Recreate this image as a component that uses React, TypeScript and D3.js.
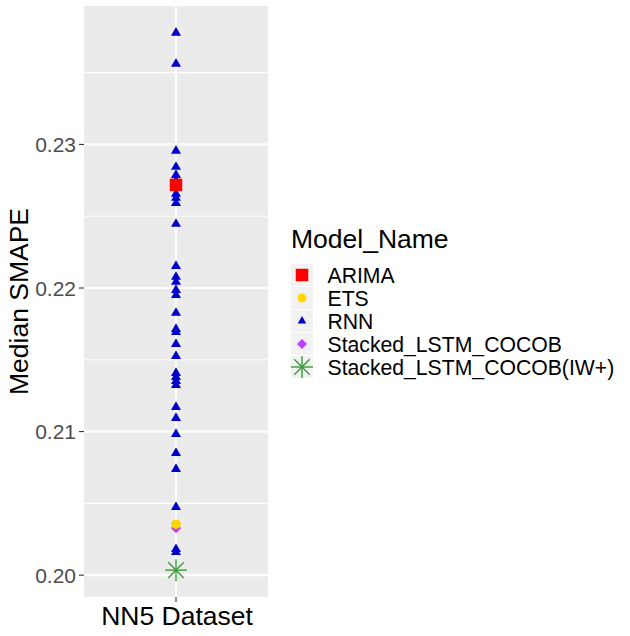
import React from "react";
import * as d3 from "d3";

const categories = ["NN5 Dataset"];
const rnnValues = [
  0.23777, 0.23561, 0.22955, 0.22843, 0.22787, 0.22746, 0.22697, 0.22655,
  0.22627, 0.22592, 0.22446, 0.22153, 0.22077, 0.22042, 0.21986, 0.21951,
  0.21826, 0.21714, 0.21693, 0.2161, 0.21526, 0.21408, 0.2138, 0.21352,
  0.21324, 0.21171, 0.21094, 0.20983, 0.2085, 0.20739, 0.20474, 0.20181,
  0.2016,
];
const arimaValues = [0.22718];
const etsValues = [0.20355];
const stackedValues = [0.20328];
const stackedIWValues = [0.20035];
const yTicks = [0.2, 0.21, 0.22, 0.23];
const yMinor = [0.205, 0.215, 0.225, 0.235];
const legendNames = [
  "ARIMA",
  "ETS",
  "RNN",
  "Stacked_LSTM_COCOB",
  "Stacked_LSTM_COCOB(IW+)",
];

const COLORS: Record<string, string> = {
  ARIMA: "#FF0000",
  ETS: "#FFD700",
  RNN: "#0000CD",
  Stacked_LSTM_COCOB: "#BF3EFF",
  "Stacked_LSTM_COCOB(IW+)": "#3A9A3A",
};

const FONT = "'Liberation Sans', Arial, Helvetica, sans-serif";

function Marker({ name, x, y, legend }: { name: string; x: number; y: number; legend?: boolean }) {
  const c = COLORS[name];
  if (name === "ARIMA") {
    const s = 12.5;
    return <rect x={x - s / 2} y={y - s / 2} width={s} height={s} fill={c} />;
  }
  if (name === "ETS") {
    return <circle cx={x} cy={y} r={legend ? 4.5 : 4.8} fill={c} />;
  }
  if (name === "RNN") {
    const w = legend ? 8.5 : 10;
    const h = w * 0.866;
    const p = `M${x},${y - (2 * h) / 3}L${x + w / 2},${y + h / 3}L${x - w / 2},${y + h / 3}Z`;
    return <path d={p} fill={c} />;
  }
  if (name === "Stacked_LSTM_COCOB") {
    const r = legend ? 5 : 5.2;
    const p = `M${x},${y - r}L${x + r},${y}L${x},${y + r}L${x - r},${y}Z`;
    return <path d={p} fill={c} />;
  }
  const r = 11;
  const d = r * Math.SQRT1_2;
  return (
    <g stroke={c} strokeWidth={1.4}>
      <line x1={x - r} y1={y} x2={x + r} y2={y} />
      <line x1={x} y1={y - r} x2={x} y2={y + r} />
      <line x1={x - d} y1={y - d} x2={x + d} y2={y + d} />
      <line x1={x - d} y1={y + d} x2={x + d} y2={y - d} />
    </g>
  );
}

export default function App() {
  const W = 630;
  const H = 636;
  const panel = { left: 84, right: 268, top: 6, bottom: 597 };

  const all = [...rnnValues, ...arimaValues, ...etsValues, ...stackedValues, ...stackedIWValues];
  const [mn, mx] = d3.extent(all) as [number, number];
  const pad = (mx - mn) * 0.05;
  const y = d3.scaleLinear().domain([mn - pad, mx + pad]).range([panel.bottom, panel.top]);
  const x = d3
    .scaleBand()
    .domain(categories)
    .range([panel.left, panel.right])
    .paddingInner(0)
    .paddingOuter(0);
  const cx = (x(categories[0]) as number) + x.bandwidth() / 2;

  const series: [string, number[]][] = [
    ["RNN", rnnValues],
    ["Stacked_LSTM_COCOB", stackedValues],
    ["ETS", etsValues],
    ["ARIMA", arimaValues],
    ["Stacked_LSTM_COCOB(IW+)", stackedIWValues],
  ];

  const legX = 291;
  const legTop = 264;
  const keyH = 23;

  return (
    <svg width={W} height={H} style={{ position: "absolute", left: 0, top: 0, background: "#fff" }} fontFamily={FONT}>
      <rect x={0} y={0} width={W} height={H} fill="#fff" />
      <rect
        x={panel.left}
        y={panel.top}
        width={panel.right - panel.left}
        height={panel.bottom - panel.top}
        fill="#EBEBEB"
      />
      {yMinor.map((t) => (
        <line key={"m" + t} x1={panel.left} x2={panel.right} y1={y(t)} y2={y(t)} stroke="#fff" strokeWidth={1.1} />
      ))}
      {yTicks.map((t) => (
        <line key={"g" + t} x1={panel.left} x2={panel.right} y1={y(t)} y2={y(t)} stroke="#fff" strokeWidth={2.1} />
      ))}
      <line x1={cx} x2={cx} y1={panel.top} y2={panel.bottom} stroke="#fff" strokeWidth={2.1} />

      {series.map(([name, vals]) =>
        vals.map((v, i) => <Marker key={name + i} name={name} x={cx} y={y(v)} />)
      )}

      {yTicks.map((t) => (
        <g key={"t" + t}>
          <line x1={panel.left - 5} x2={panel.left} y1={y(t)} y2={y(t)} stroke="#333" strokeWidth={1.1} />
          <text
            x={panel.left - 8}
            y={y(t)}
            dy="0.36em"
            textAnchor="end"
            fontSize={21}
            fill="#4D4D4D"
          >
            {d3.format(".2f")(t)}
          </text>
        </g>
      ))}
      <line x1={cx} x2={cx} y1={panel.bottom} y2={panel.bottom + 5} stroke="#333" strokeWidth={1.1} />
      <text x={cx + 1} y={625} textAnchor="middle" fontSize={26.5} fill="#000">
        {categories[0]}
      </text>
      <text
        transform={`translate(28,${(panel.top + panel.bottom) / 2}) rotate(-90)`}
        textAnchor="middle"
        fontSize={26.5}
        fill="#000"
      >
        Median SMAPE
      </text>

      <text x={legX} y={248} fontSize={26.5} fill="#000">
        Model_Name
      </text>
      {legendNames.map((name, i) => {
        const ky = legTop + i * keyH;
        return (
          <g key={name}>
            <rect x={legX} y={ky} width={22} height={22} fill="#F2F2F2" />
            <Marker name={name} x={legX + 11} y={ky + 11} legend />
            <text x={327.5} y={ky + 11} dy="0.36em" fontSize={21.2} fill="#000">
              {name}
            </text>
          </g>
        );
      })}
    </svg>
  );
}
